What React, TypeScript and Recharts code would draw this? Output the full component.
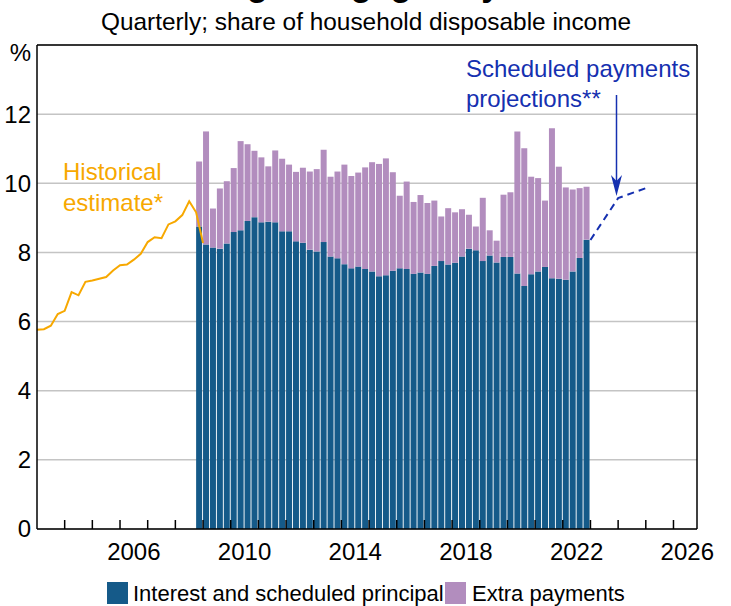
import {
  ComposedChart,
  Bar,
  Line,
  XAxis,
  YAxis,
  CartesianGrid,
  ReferenceLine,
} from "recharts";

// quarterly, share of household disposable income (%)
// historical estimate, quarter-end dates from 2003 to 2009
const histStartYear = 2003;
const historical = [
  5.76, 5.78, 5.88, 6.22, 6.31, 6.85, 6.76, 7.15, 7.19, 7.24, 7.29, 7.48, 7.63,
  7.65, 7.79, 7.96, 8.3, 8.44, 8.41, 8.81, 8.9, 9.08, 9.48, 9.16, 8.27,
];

// bars: Dec quarter 2008 to Dec quarter 2022
const firstBarQuarter = 2008.75;
const interest = [
  8.75, 8.23, 8.14, 8.11, 8.26, 8.59, 8.64, 8.91, 9.02, 8.87, 8.89, 8.87, 8.61,
  8.61, 8.32, 8.28, 8.08, 8.03, 8.3, 7.88, 7.83, 7.66, 7.54, 7.59, 7.52, 7.45,
  7.31, 7.34, 7.47, 7.54, 7.52, 7.38, 7.42, 7.38, 7.61, 7.75, 7.65, 7.7, 7.88,
  8.11, 8.06, 7.75, 7.91, 7.71, 7.87, 7.87, 7.39, 7.03, 7.37, 7.45, 7.58, 7.25,
  7.24, 7.21, 7.45, 7.84, 8.37,
];
const extra = [
  1.88, 3.27, 1.13, 1.74, 1.8, 1.85, 2.58, 2.22, 1.92, 1.88, 1.6, 2.08, 2.1,
  1.93, 2.01, 2.17, 2.26, 2.38, 2.67, 2.31, 2.51, 2.88, 2.67, 2.72, 2.94, 3.16,
  3.25, 3.38, 2.85, 2.1, 2.53, 2.08, 2.24, 2.05, 1.89, 1.29, 1.63, 1.46, 1.37,
  0.98, 0.69, 1.83, 0.73, 0.63, 1.8, 1.87, 4.11, 3.98, 2.82, 2.7, 1.92, 4.34,
  3.24, 2.67, 2.37, 2.02, 1.53,
];

// scheduled payments projection
const projYears = [2023, 2024, 2025];
const projection = [8.36, 9.57, 9.86];

const yearTicks = [
  2004, 2005, 2006, 2007, 2008, 2009, 2010, 2011, 2012, 2013, 2014, 2015, 2016,
  2017, 2018, 2019, 2020, 2021, 2022, 2023, 2024, 2025, 2026,
];
const yearLabels = [2006, 2010, 2014, 2018, 2022, 2026];
const yTicks = [0, 2, 4, 6, 8, 10, 12, 14];

const BLUE = "#155a89";
const PURPLE = "#b28dbe";
const ORANGE = "#f7a800";
const NAVY = "#1530b0";

const barData = interest.map((v, i) => ({
  t: firstBarQuarter + i * 0.25 + 0.125,
  interest: v,
  extra: extra[i],
}));
const histData = historical.map((v, i) => ({ t: histStartYear + i * 0.25, v }));
const projData = projYears.map((t, i) => ({ t, v: projection[i] }));

const xDomain = [2003, 2026.85];

// year tick marks point up into the plot
const YearTick = (props: any) => (
  <line
    x1={props.x}
    x2={props.x}
    y1={props.y}
    y2={props.y - 9}
    stroke="#000"
    strokeWidth={1.5}
  />
);

const YTick = (props: any) => {
  const v = props.payload.value;
  return (
    <text
      x={props.x}
      y={v === 14 ? props.y + 8 : props.y}
      dy="0.35em"
      textAnchor={props.textAnchor}
      fontSize={24}
      fill="#000"
    >
      {v === 14 ? "%" : v}
    </text>
  );
};

export default function App() {
  return (
    <div
      style={{
        position: "absolute",
        left: 0,
        top: 0,
        width: 731,
        height: 606,
        background: "#fff",
        fontFamily: "'Liberation Sans', Arial, sans-serif",
      }}
    >
      <ComposedChart
        width={731}
        height={606}
        data={barData}
        margin={{ top: 45, right: 0, bottom: 46, left: 0 }}
      >
        <CartesianGrid
          xAxisId="a"
          yAxisId="l"
          vertical={false}
          stroke="#c4c4c4"
          strokeWidth={1.5}
        />
        <Bar
          xAxisId="a"
          yAxisId="l"
          dataKey="interest"
          stackId="s"
          fill={BLUE}
          barSize={6}
          isAnimationActive={false}
        />
        <Bar
          xAxisId="a"
          yAxisId="l"
          dataKey="extra"
          stackId="s"
          fill={PURPLE}
          barSize={6}
          isAnimationActive={false}
        />
        <Line
          xAxisId="c"
          yAxisId="l"
          data={histData}
          dataKey="v"
          stroke={ORANGE}
          strokeWidth={2}
          dot={false}
          isAnimationActive={false}
        />
        <Line
          xAxisId="c"
          yAxisId="l"
          data={projData}
          dataKey="v"
          stroke={NAVY}
          strokeWidth={2}
          strokeDasharray="7 5"
          dot={false}
          isAnimationActive={false}
        />
        <ReferenceLine xAxisId="a" yAxisId="l" y={14} stroke="#000" strokeWidth={1.5} />
        <XAxis
          xAxisId="a"
          type="number"
          dataKey="t"
          domain={xDomain}
          allowDataOverflow
          ticks={yearTicks}
          interval={0}
          height={1}
          tickLine={false}
          tickSize={0}
          tickMargin={0}
          tick={<YearTick />}
          axisLine={{ stroke: "#000", strokeWidth: 1.5 }}
        />
        <XAxis
          xAxisId="b"
          type="number"
          dataKey="t"
          domain={xDomain}
          allowDataOverflow
          ticks={yearLabels.map((y) => y + 0.5)}
          tickFormatter={(v: number) => String(Math.floor(v))}
          interval={0}
          height={30}
          tickLine={false}
          axisLine={false}
          tickSize={0}
          tickMargin={13}
          tick={{ fontSize: 24, fill: "#000" }}
        />
        <XAxis
          xAxisId="c"
          type="number"
          dataKey="t"
          domain={xDomain}
          allowDataOverflow
          hide
        />
        <YAxis
          yAxisId="l"
          domain={[0, 14]}
          ticks={yTicks}
          interval={0}
          width={37}
          tickLine={false}
          tickSize={0}
          tickMargin={6}
          tick={<YTick />}
          axisLine={{ stroke: "#000", strokeWidth: 1.5 }}
        />
        <YAxis
          yAxisId="r"
          orientation="right"
          domain={[0, 14]}
          ticks={yTicks}
          interval={0}
          width={34}
          tickLine={false}
          tickSize={0}
          tickMargin={5}
          tick={<YTick />}
          axisLine={{ stroke: "#000", strokeWidth: 1.5 }}
        />
      </ComposedChart>
      <svg
        width={731}
        height={606}
        style={{ position: "absolute", left: 0, top: 0, pointerEvents: "none" }}
      >
        <text x={366} y={-4} textAnchor="middle" fontSize={34} fontWeight="bold" fill="#000">
          Housing Mortgage Payments
        </text>
        <text x={366} y={30} textAnchor="middle" fontSize={24.4} fill="#000">
          Quarterly; share of household disposable income
        </text>
        <text x={63} y={180} fontSize={24} fill={ORANGE}>
          Historical
        </text>
        <text x={63} y={211} fontSize={24} fill={ORANGE}>
          estimate*
        </text>
        <text x={466} y={77} fontSize={24} fill={NAVY}>
          Scheduled payments
        </text>
        <text x={466} y={107} fontSize={24} fill={NAVY}>
          projections**
        </text>
        <line x1={616.5} x2={616.5} y1={95} y2={182} stroke={NAVY} strokeWidth={1.5} />
        <polygon points="611,175 616.5,181 622,175 616.5,196" fill={NAVY} />
        <rect x={107} y={582} width={21} height={22} fill={BLUE} />
        <text x={133} y={601} fontSize={22} fill="#000">
          Interest and scheduled principal
        </text>
        <rect x={445} y={582} width={21} height={22} fill={PURPLE} />
        <text x={472} y={601} fontSize={22} fill="#000">
          Extra payments
        </text>
      </svg>
    </div>
  );
}
